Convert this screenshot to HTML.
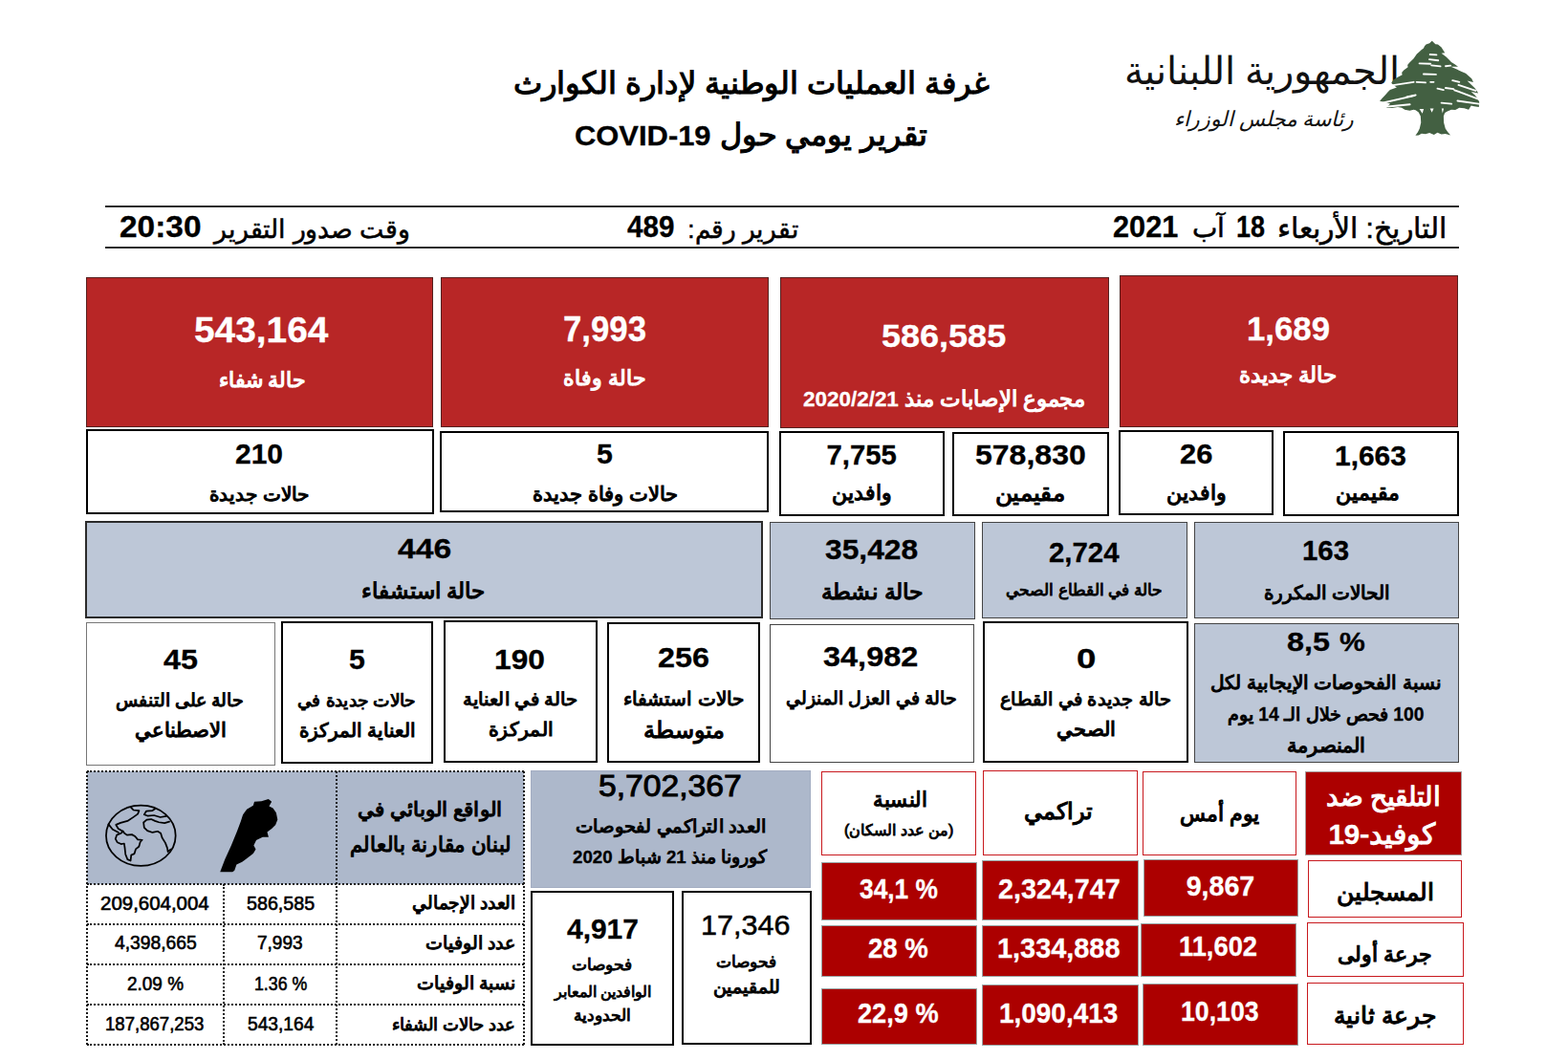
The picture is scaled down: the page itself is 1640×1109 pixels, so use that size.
<!DOCTYPE html>
<html lang="ar"><head><meta charset="utf-8"><title>COVID-19 Daily Report 489</title>
<style>
html,body{margin:0;padding:0;background:#fff}
body{width:1640px;height:1109px;position:relative;overflow:hidden;font-family:"Liberation Sans",sans-serif;color:#000}
.b{position:absolute;box-sizing:border-box}
.t{position:absolute;white-space:pre;line-height:40px;height:40px}
.n{direction:ltr;text-align:left;transform-origin:0 50%}
.a{direction:rtl;text-align:right}
.w{color:#fff}
.bd{font-weight:bold;-webkit-text-stroke:0.3px}
.md{-webkit-text-stroke:0.6px}
.sb{-webkit-text-stroke:0.55px}
.ab{-webkit-text-stroke:1.15px}
.a b{-webkit-text-stroke-width:0.3px}
svg{position:absolute;overflow:visible}
.hr{position:absolute;left:110px;width:1416px;height:2px;background:#2a2a2a}
.dt{position:absolute;box-sizing:border-box;border:0 dotted #1a1a1a}
</style></head><body>
<div class="hr" style="top:215px"></div>
<div class="hr" style="top:257.5px"></div>
<svg style="left:1190px;top:40px" width="260" height="105" viewBox="0 0 260 105"><text x="130" y="48" font-size="40" fill="#111" text-anchor="middle" direction="rtl" font-family="'Liberation Serif', 'DejaVu Serif', serif">الجمهورية اللبنانية</text><text x="132" y="92" font-size="22" fill="#111" text-anchor="middle" direction="rtl" font-style="italic" font-family="'Liberation Serif', 'DejaVu Serif', serif">رئاسة مجلس الوزراء</text></svg>
<svg style="left:1435px;top:35px" width="120" height="115" viewBox="0 0 1157 1109"><path d="M605,75 L640,108 665,112 700,140 715,165 735,195 700,200 745,235 775,262 800,290 835,312 868,335 795,335 850,360 905,385 945,402 975,430 1005,455 1022,492 960,478 1000,515 1040,555 1072,602 1000,588 1040,625 1065,655 1082,692 1078,742 1030,735 1000,728 975,768 930,755 880,750 840,772 800,768 760,785 735,800 722,835 724,900 740,960 765,995 792,1026 740,1012 700,1018 660,1000 625,1022 580,1002 540,1015 500,1010 470,1028 438,1030 462,995 480,960 494,900 490,835 470,795 440,775 420,770 380,778 330,770 300,750 260,742 200,752 148,752 165,725 185,708 130,695 78,682 105,650 135,620 160,590 182,568 250,545 215,520 195,498 215,468 260,440 305,418 300,395 320,372 362,340 358,318 378,295 420,252 440,225 452,208 482,180 500,165 520,150 530,128 545,112 580,100 Z" fill="#436042"/><g stroke="#fff" stroke-width="18" stroke-linecap="round" fill="none"><path d="M585,212 L650,216"/><path d="M578,262 L668,272"/><path d="M478,302 L590,306"/><path d="M600,322 L690,332"/><path d="M742,330 L792,324"/><path d="M520,410 L645,414"/><path d="M196,524 L420,490"/><path d="M450,490 L540,496"/><path d="M590,490 L622,490"/><path d="M812,474 L880,490"/><path d="M872,520 L1045,578"/><path d="M660,556 L722,570"/><path d="M742,550 L822,560"/><path d="M832,572 L1078,664"/><path d="M92,704 L425,628"/><path d="M160,738 L382,716"/><path d="M700,700 L802,710"/><path d="M862,680 L1092,712"/><path d="M350,640 L440,622"/></g><g fill="#fff"><path d="M478,762 L522,762 508,808 Z"/><path d="M585,758 L622,758 604,798 Z"/><path d="M702,758 L724,758 712,805 Z"/></g></svg>
<div class="t n bd" style="left:601.4px;top:121.6px;font-size:29.9px;transform:scaleX(1.034)">COVID-19</div>
<div class="t n bd" style="left:1164px;top:218.3px;font-size:31px;transform:scaleX(0.99)">2021</div>
<div class="t n bd" style="left:1293.1px;top:218.3px;font-size:31px;transform:scaleX(0.869)">18</div>
<div class="t n bd" style="left:656px;top:218.3px;font-size:31px;transform:scaleX(0.955)">489</div>
<div class="t n bd" style="left:124.9px;top:218.3px;font-size:31px;transform:scaleX(1.078)">20:30</div>
<div class="t a ab" style="left:538.1px;top:66.9px;font-size:32px;transform:scaleX(1.005)">غرفة العمليات الوطنية لإدارة الكوارث</div>
<div class="t a ab" style="left:752.6px;top:121.1px;font-size:31.6px">تقرير يومي حول</div>
<div class="t a sb" style="left:1336.1px;top:218.6px;font-size:29.9px">التاريخ: الأربعاء</div>
<div class="t a sb" style="left:1246.5px;top:219.4px;font-size:27.7px">آب</div>
<div class="t a sb" style="left:717.8px;top:219.8px;font-size:26.6px;transform:scaleX(0.978)">تقرير رقم:</div>
<div class="t a sb" style="left:222.6px;top:219.7px;font-size:26.7px;transform:scaleX(0.991)">وقت صدور التقرير</div>
<div class="b" style="left:90px;top:290px;width:363px;height:157px;background:#B82626;border:1px solid #55201f">
<div class="t n bd w" style="left:112.3px;top:34.6px;font-size:36.6px;transform:scaleX(1.062)">543,164</div>
<div class="t a ab w" style="left:137.5px;top:87.1px;font-size:21.5px">حالة شفاء</div>
</div>
<div class="b" style="left:461px;top:290px;width:343px;height:157px;background:#B82626;border:1px solid #55201f">
<div class="t n bd w" style="left:126.5px;top:34.3px;font-size:36.6px;transform:scaleX(0.95)">7,993</div>
<div class="t a ab w" style="left:126.8px;top:85.4px;font-size:21.5px">حالة وفاة</div>
</div>
<div class="b" style="left:816px;top:290px;width:344px;height:158px;background:#B82626;border:1px solid #55201f">
<div class="t n bd w" style="left:104.9px;top:40.3px;font-size:33.7px;transform:scaleX(1.069)">586,585</div>
<div class="t a ab w" style="left:22.3px;top:106.7px;font-size:22.6px;transform:scaleX(0.993)">مجموع الإصابات منذ <b>2020/2/21</b></div>
</div>
<div class="b" style="left:1171px;top:288px;width:354px;height:159px;background:#B82626;border:1px solid #55201f">
<div class="t n bd w" style="left:131.5px;top:35.1px;font-size:35.2px;transform:scaleX(0.988)">1,689</div>
<div class="t a ab w" style="left:124px;top:82.9px;font-size:23.4px">حالة جديدة</div>
</div>
<div class="b" style="left:90px;top:449px;width:364px;height:89px;background:#fff;border:2px solid #000">
<div class="t n bd" style="left:154px;top:3.6px;font-size:30px">210</div>
<div class="t a ab" style="left:127.1px;top:46.1px;font-size:20px;-webkit-text-stroke-width:1.12px">حالات جديدة</div>
</div>
<div class="b" style="left:460px;top:451px;width:344px;height:85px;background:#fff;border:2px solid #000">
<div class="t n bd" style="left:162px;top:1.8px;font-size:29.3px;transform:scaleX(1.033)">5</div>
<div class="t a ab" style="left:95.4px;top:43.7px;font-size:20.6px">حالات وفاة جديدة</div>
</div>
<div class="b" style="left:815px;top:451px;width:172.5px;height:89px;background:#fff;border:2px solid #000">
<div class="t n bd" style="left:47.5px;top:3.1px;font-size:29.3px">7,755</div>
<div class="t a ab" style="left:52.8px;top:43.3px;font-size:21.7px">وافدين</div>
</div>
<div class="b" style="left:996px;top:452px;width:164px;height:88px;background:#fff;border:2px solid #000">
<div class="t n bd" style="left:22.2px;top:2.1px;font-size:29.3px;transform:scaleX(1.093)">578,830</div>
<div class="t a ab" style="left:44px;top:41.6px;font-size:23.7px;transform:scaleX(1.029)">مقيمين</div>
</div>
<div class="b" style="left:1170px;top:450px;width:162px;height:89px;background:#fff;border:2px solid #000">
<div class="t n bd" style="left:61.5px;top:3.1px;font-size:30px;transform:scaleX(1.031)">26</div>
<div class="t a ab" style="left:47.8px;top:43.5px;font-size:21.7px">وافدين</div>
</div>
<div class="b" style="left:1342px;top:451px;width:184px;height:89px;background:#fff;border:2px solid #000">
<div class="t n bd" style="left:51.5px;top:4.3px;font-size:29.3px;transform:scaleX(1.021)">1,663</div>
<div class="t a ab" style="left:52.5px;top:43.3px;font-size:21.5px">مقيمين</div>
</div>
<div class="b" style="left:89px;top:545px;width:709px;height:102px;background:#BDC7D7;border:2px solid #2b2b2b">
<div class="t n bd" style="left:325px;top:7.1px;font-size:30px;transform:scaleX(1.122)">446</div>
<div class="t a ab" style="left:286.6px;top:51.5px;font-size:22.6px">حالة استشفاء</div>
</div>
<div class="b" style="left:805px;top:546px;width:215px;height:102px;background:#BDC7D7;border:1px solid #444">
<div class="t n bd" style="left:57.4px;top:7.8px;font-size:29.3px;transform:scaleX(1.085)">35,428</div>
<div class="t a ab" style="left:53.7px;top:52.4px;font-size:23.4px;transform:scaleX(1.024)">حالة نشطة</div>
</div>
<div class="b" style="left:1027px;top:546px;width:215px;height:101px;background:#BDC7D7;border:1px solid #444">
<div class="t n bd" style="left:68.5px;top:11.4px;font-size:30px;transform:scaleX(0.98)">2,724</div>
<div class="t a ab" style="left:24.2px;top:51px;font-size:16.6px;-webkit-text-stroke-width:0.93px">حالة في القطاع الصحي</div>
</div>
<div class="b" style="left:1249px;top:546px;width:277px;height:101px;background:#BDC7D7;border:1px solid #444">
<div class="t n bd" style="left:111.8px;top:9.1px;font-size:29.3px;transform:scaleX(1.004)">163</div>
<div class="t a ab" style="left:71.8px;top:52.5px;font-size:19.7px;-webkit-text-stroke-width:1.1px">الحالات المكررة</div>
</div>
<div class="b" style="left:90px;top:651px;width:198px;height:150px;background:#fff;border:1px solid #777">
<div class="t n bd" style="left:79.5px;top:18.3px;font-size:29.3px;transform:scaleX(1.103)">45</div>
<div class="t a ab" style="left:29.5px;top:61.4px;font-size:19px;-webkit-text-stroke-width:1.06px">حالة على التنفس</div>
<div class="t a ab" style="left:49.8px;top:92.2px;font-size:20.6px">الاصطناعي</div>
</div>
<div class="b" style="left:294px;top:650px;width:159px;height:149px;background:#fff;border:2px solid #000">
<div class="t n bd" style="left:68.8px;top:17.8px;font-size:29.3px;transform:scaleX(1.033)">5</div>
<div class="t a ab" style="left:17px;top:60.7px;font-size:17.7px;transform:scaleX(1.034);-webkit-text-stroke-width:0.99px">حالات جديدة في</div>
<div class="t a ab" style="left:16.8px;top:91.6px;font-size:20px;-webkit-text-stroke-width:1.12px">العناية المركزة</div>
</div>
<div class="b" style="left:464px;top:649px;width:161px;height:149px;background:#fff;border:2px solid #000">
<div class="t n bd" style="left:51.3px;top:18.8px;font-size:29.3px;transform:scaleX(1.083)">190</div>
<div class="t a ab" style="left:20.4px;top:61.2px;font-size:19px;transform:scaleX(1.028);-webkit-text-stroke-width:1.06px">حالة في العناية</div>
<div class="t a ab" style="left:46.3px;top:92.2px;font-size:19.7px;transform:scaleX(1.024);-webkit-text-stroke-width:1.1px">المركزة</div>
</div>
<div class="b" style="left:635px;top:651px;width:160px;height:147px;background:#fff;border:2px solid #000">
<div class="t n bd" style="left:51.4px;top:14.6px;font-size:30px;transform:scaleX(1.079)">256</div>
<div class="t a ab" style="left:15.4px;top:57.7px;font-size:19.7px;-webkit-text-stroke-width:1.1px">حالات استشفاء</div>
<div class="t a ab" style="left:35.5px;top:91.3px;font-size:23.7px">متوسطة</div>
</div>
<div class="b" style="left:805px;top:653px;width:214px;height:145px;background:#fff;border:1px solid #444">
<div class="t n bd" style="left:55.4px;top:13.3px;font-size:29.3px;transform:scaleX(1.108)">34,982</div>
<div class="t a ab" style="left:16.1px;top:57px;font-size:18.8px;-webkit-text-stroke-width:1.05px">حالة في العزل المنزلي</div>
</div>
<div class="b" style="left:1028px;top:650px;width:215px;height:148px;background:#fff;border:2px solid #000">
<div class="t n bd" style="left:95.8px;top:17.1px;font-size:29.3px;transform:scaleX(1.25)">0</div>
<div class="t a ab" style="left:18.2px;top:60.3px;font-size:18.7px;transform:scaleX(1.021);-webkit-text-stroke-width:1.05px">حالة جديدة في القطاع</div>
<div class="t a ab" style="left:74.9px;top:90.8px;font-size:20.6px">الصحي</div>
</div>
<div class="b" style="left:1249px;top:652px;width:277px;height:146px;background:#BDC7D7;border:1px solid #444">
<div class="t n bd" style="left:95.8px;top:-0.6px;font-size:27.8px;transform:scaleX(1.162)">8,5</div>
<div class="t n bd" style="left:151px;top:-0.6px;font-size:27.8px;transform:scaleX(1.083)">%</div>
<div class="t a ab" style="left:16.2px;top:40.6px;font-size:20px;-webkit-text-stroke-width:1.12px">نسبة الفحوصات الإيجابية لكل</div>
<div class="t a ab" style="left:34px;top:74.8px;font-size:19.3px;-webkit-text-stroke-width:1.08px"><b>100</b> فحص خلال الـ <b>14</b> يوم</div>
<div class="t a ab" style="left:96.2px;top:107.3px;font-size:20.7px">المنصرمة</div>
</div>
<div class="b" style="left:555px;top:806px;width:293px;height:123px;background:#ADB8CB;border:1px solid #a3adc2">
<div class="t n md" style="left:70.4px;top:-5px;font-size:32.2px;transform:scaleX(1.045);-webkit-text-stroke-width:1.0px">5,702,367</div>
<div class="t a ab" style="left:47.7px;top:38.4px;font-size:19.1px;transform:scaleX(1.025);-webkit-text-stroke-width:1.07px">العدد التراكمي لفحوصات</div>
<div class="t a ab" style="left:43px;top:70px;font-size:18.7px;-webkit-text-stroke-width:1.05px">كورونا منذ <b>21</b> شباط <b>2020</b></div>
</div>
<div class="b" style="left:555px;top:932px;width:150px;height:162px;background:#fff;border:2px solid #000">
<div class="t n bd" style="left:36px;top:17.8px;font-size:29.3px;transform:scaleX(1.022)">4,917</div>
<div class="t a ab" style="left:40.8px;top:56.2px;font-size:16.6px;-webkit-text-stroke-width:0.93px">فحوصات</div>
<div class="t a ab" style="left:23px;top:84.3px;font-size:15.5px;-webkit-text-stroke-width:0.87px">الوافدين المعابر</div>
<div class="t a ab" style="left:42.8px;top:109.3px;font-size:16.7px;-webkit-text-stroke-width:0.94px">الحدودية</div>
</div>
<div class="b" style="left:713px;top:932px;width:136px;height:161px;background:#fff;border:2px solid #000">
<div class="t n md" style="left:17.9px;top:14.3px;font-size:29.3px;transform:scaleX(1.043);-webkit-text-stroke-width:0.5px">17,346</div>
<div class="t a ab" style="left:33.9px;top:52.7px;font-size:16.6px;-webkit-text-stroke-width:0.93px">فحوصات</div>
<div class="t a ab" style="left:30.8px;top:78.6px;font-size:18.6px;-webkit-text-stroke-width:1.04px">للمقيمين</div>
</div>
<div class="b" style="left:859px;top:807px;width:162px;height:88px;background:#fff;border:1px solid #c8191e">
<div class="t a ab" style="left:52.3px;top:9.1px;font-size:21.6px;transform:scaleX(0.968)">النسبة</div>
<div class="t a ab" style="left:22.9px;top:40.8px;font-size:15.8px;-webkit-text-stroke-width:0.88px">(من عدد السكان)</div>
</div>
<div class="b" style="left:1028px;top:806px;width:162px;height:89px;background:#fff;border:1px solid #c8191e">
<div class="t a ab" style="left:42.4px;top:22.1px;font-size:23.7px">تراكمي</div>
</div>
<div class="b" style="left:1195px;top:807px;width:161px;height:88px;background:#fff;border:1px solid #c8191e">
<div class="t a ab" style="left:37.6px;top:24.1px;font-size:21.5px">يوم أمس</div>
</div>
<div class="b" style="left:1365px;top:807px;width:164px;height:88px;background:#AC0000;border:1px solid #a99">
<div class="t a ab w" style="left:20.7px;top:6.2px;font-size:27.5px">التلقيح ضد</div>
<div class="t a ab w" style="left:23.4px;top:45.1px;font-size:29.6px">كوفيد-<b>19</b></div>
</div>
<div class="b" style="left:859px;top:902px;width:163px;height:61px;background:#AC0000;border:1px solid #9aa5a5">
<div class="t n bd w" style="left:38.9px;top:7.1px;font-size:28.6px;transform:scaleX(0.92)">34,1 %</div>
</div>
<div class="b" style="left:1027px;top:900px;width:164px;height:63px;background:#AC0000;border:1px solid #9aa5a5">
<div class="t n bd w" style="left:16.3px;top:8.5px;font-size:28.6px;transform:scaleX(1.004)">2,324,747</div>
</div>
<div class="b" style="left:1196px;top:899px;width:162px;height:60px;background:#AC0000;border:1px solid #9aa5a5">
<div class="t n bd w" style="left:43.7px;top:7.3px;font-size:28.6px">9,867</div>
</div>
<div class="b" style="left:1368px;top:900px;width:161px;height:60px;background:#fff;border:1px solid #c8191e">
<div class="t a ab" style="left:28.6px;top:13.3px;font-size:24.6px">المسجلين</div>
</div>
<div class="b" style="left:859px;top:968px;width:163px;height:54px;background:#AC0000;border:1px solid #9aa5a5">
<div class="t n bd w" style="left:48.4px;top:2.8px;font-size:28.6px;transform:scaleX(0.964)">28 %</div>
</div>
<div class="b" style="left:1027px;top:968px;width:164px;height:54px;background:#AC0000;border:1px solid #9aa5a5">
<div class="t n bd w" style="left:14.5px;top:2.8px;font-size:28.6px;transform:scaleX(1.01)">1,334,888</div>
</div>
<div class="b" style="left:1193px;top:966px;width:163px;height:56px;background:#AC0000;border:1px solid #9aa5a5">
<div class="t n bd w" style="left:38.5px;top:3.4px;font-size:28.6px;transform:scaleX(0.955)">11,602</div>
</div>
<div class="b" style="left:1367px;top:965px;width:164px;height:57px;background:#fff;border:1px solid #c8191e">
<div class="t a ab" style="left:31.2px;top:12.5px;font-size:21.6px">جرعة أولى</div>
</div>
<div class="b" style="left:859px;top:1034px;width:163px;height:59px;background:#AC0000;border:1px solid #9aa5a5">
<div class="t n bd w" style="left:37px;top:4.8px;font-size:28.6px;transform:scaleX(0.95)">22,9 %</div>
</div>
<div class="b" style="left:1027px;top:1030px;width:164px;height:64px;background:#AC0000;border:1px solid #9aa5a5">
<div class="t n bd w" style="left:17.4px;top:8.8px;font-size:28.6px;transform:scaleX(0.977)">1,090,413</div>
</div>
<div class="b" style="left:1195px;top:1029px;width:163px;height:65px;background:#AC0000;border:1px solid #9aa5a5">
<div class="t n bd w" style="left:38.7px;top:8.4px;font-size:28.6px;transform:scaleX(0.933)">10,103</div>
</div>
<div class="b" style="left:1367px;top:1028px;width:164px;height:65px;background:#fff;border:1px solid #c8191e">
<div class="t a ab" style="left:27.2px;top:13.6px;font-size:24.7px">جرعة ثانية</div>
</div>
<div class="b" style="left:91px;top:807px;width:456.5px;height:286px">
<div class="b" style="left:0;top:0;width:456.5px;height:118px;background:#ADB8CB"></div>
<div class="dt" style="left:0px;top:-1px;width:456.5px;height:0;border-top-width:2px"></div>
<div class="dt" style="left:0px;top:117px;width:456.5px;height:0;border-top-width:2px"></div>
<div class="dt" style="left:0px;top:159px;width:456.5px;height:0;border-top-width:2px"></div>
<div class="dt" style="left:0px;top:201px;width:456.5px;height:0;border-top-width:2px"></div>
<div class="dt" style="left:0px;top:243px;width:456.5px;height:0;border-top-width:2px"></div>
<div class="dt" style="left:0px;top:285px;width:456.5px;height:0;border-top-width:2px"></div>
<div class="dt" style="left:-1px;top:0px;width:0;height:286px;border-left-width:2px"></div>
<div class="dt" style="left:455.5px;top:0px;width:0;height:286px;border-left-width:2px"></div>
<div class="dt" style="left:260px;top:0px;width:0;height:286px;border-left-width:2px"></div>
<div class="dt" style="left:142px;top:118px;width:0;height:168px;border-left-width:2px"></div>
<div class="t n md" style="left:14px;top:118.2px;font-size:19.8px;transform:scaleX(1.034)">209,604,004</div>
<div class="t n md" style="left:166.9px;top:118.2px;font-size:19.8px;transform:scaleX(0.996)">586,585</div>
<div class="t n md" style="left:28.6px;top:159.3px;font-size:19.8px;transform:scaleX(0.975)">4,398,665</div>
<div class="t n md" style="left:178.4px;top:159.3px;font-size:19.8px;transform:scaleX(0.96)">7,993</div>
<div class="t n md" style="left:41.9px;top:201.8px;font-size:19.8px;transform:scaleX(0.958)">2.09 %</div>
<div class="t n md" style="left:175px;top:201.8px;font-size:19.8px;transform:scaleX(0.897)">1.36 %</div>
<div class="t n md" style="left:18.7px;top:244.2px;font-size:19.8px;transform:scaleX(0.939)">187,867,253</div>
<div class="t n md" style="left:167.8px;top:244.2px;font-size:19.8px;transform:scaleX(0.97)">543,164</div>
<div class="t a ab" style="left:283.9px;top:20.3px;font-size:20.8px;transform:scaleX(1.02)">الواقع الوبائي في</div>
<div class="t a ab" style="left:272.4px;top:56.8px;font-size:21.7px;transform:scaleX(0.966)">لبنان مقارنة بالعالم</div>
<div class="t a ab" style="left:338.9px;top:118.1px;font-size:18.7px;transform:scaleX(0.981);-webkit-text-stroke-width:1.05px">العدد الإجمالي</div>
<div class="t a ab" style="left:353.8px;top:159.9px;font-size:18.6px;-webkit-text-stroke-width:1.04px">عدد الوفيات</div>
<div class="t a ab" style="left:344.9px;top:201.7px;font-size:18.7px;-webkit-text-stroke-width:1.05px">نسبة الوفيات</div>
<div class="t a ab" style="left:319.1px;top:245.1px;font-size:17.6px;-webkit-text-stroke-width:0.98px">عدد حالات الشفاء</div>
<svg style="left:4px;top:13px" width="220" height="110" viewBox="0 0 1640 820"><g fill="none" stroke="#000" stroke-width="13" stroke-linejoin="round" stroke-linecap="round"><ellipse cx="390" cy="404" rx="271" ry="236"/><path d="M250,370 L236,386 202,400 192,430 206,456 236,470 260,466 265,500 270,550 286,590 310,600 315,556 340,545 350,510 375,490 385,455 400,438 366,435 345,410 320,396 282,400 262,386 Z"/><path d="M312,184 L332,205 376,210 366,236 332,260 286,290 232,305 196,320 214,350 240,366 250,370"/><path d="M138,316 L170,356 216,380"/><path d="M500,196 L478,210 432,214 416,240 442,250 492,246 542,261 588,252"/><path d="M612,296 L575,306 530,300 500,290 470,276 436,281 411,302 416,342 441,366 481,380 521,371 545,386 556,421 581,461 596,500 601,530 622,512"/></g><path d="M1275,140 L1330,136 1385,120 1410,140 1390,175 1420,190 1445,226 1456,280 1440,320 1410,350 1375,376 1386,415 1340,416 1290,440 1270,480 1286,510 1266,545 1220,580 1180,610 1136,630 1120,676 1105,688 1008,688 1045,590 1095,480 1140,370 1170,290 1186,240 1216,200 1266,170 Z" fill="#000"/></svg>
</div>
</body></html>
